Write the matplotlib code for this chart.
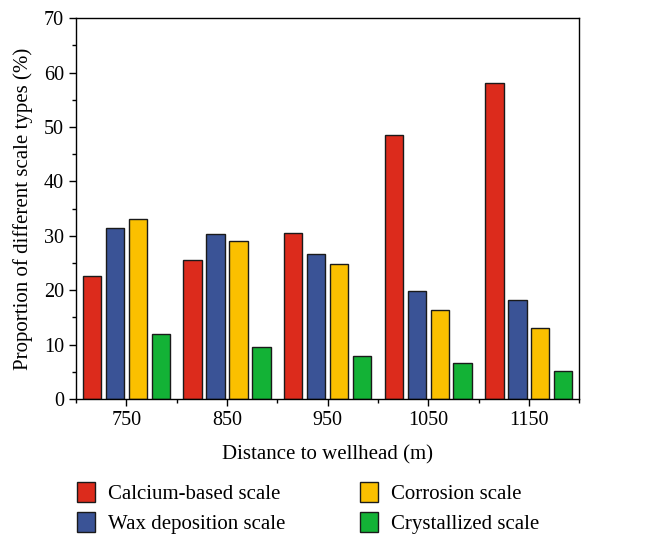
import numpy as np
import matplotlib.pyplot as plt
from matplotlib.ticker import MultipleLocator, FixedLocator

plt.rcParams['font.family'] = ['Liberation Serif', 'DejaVu Serif']

distances = [750, 850, 950, 1050, 1150]
calcium = [22.7, 25.6, 30.6, 48.6, 58.1]
wax = [31.5, 30.4, 26.6, 19.9, 18.2]
corrosion = [33.1, 29.1, 24.9, 16.4, 13.0]
crystallized = [11.9, 9.5, 8.0, 6.6, 5.1]

labels = ['Calcium-based scale', 'Wax deposition scale', 'Corrosion scale', 'Crystallized scale']
colors = ['#DC2B1C', '#3A5396', '#FBC000', '#13B236']
series = [calcium, wax, corrosion, crystallized]

fig = plt.figure(figsize=(6.5, 5.35), dpi=100)
ax = fig.add_axes([0.117, 0.254, 0.774, 0.712])

x = np.array(distances, dtype=float)
width = 18.2
offsets = [-34.2, -11.4, 11.4, 34.2]
for vals, lab, col, off in zip(series, labels, colors, offsets):
    ax.bar(x + off, vals, width, color=col, edgecolor='#1a1a1a', linewidth=1.0, label=lab)

ax.set_xlim(700, 1200)
ax.set_ylim(0, 70)
ax.set_xticks(distances)
ax.xaxis.set_minor_locator(FixedLocator([700, 800, 900, 1000, 1100, 1200]))
ax.yaxis.set_major_locator(MultipleLocator(10))
ax.yaxis.set_minor_locator(MultipleLocator(5))
ax.tick_params(which='both', direction='out', top=False, right=False, labelsize=14.5)
ax.tick_params(which='major', length=5, width=1)
ax.tick_params(which='minor', length=3, width=1)
for s in ax.spines.values():
    s.set_linewidth(1.0)

ax.set_xlabel('Distance to wellhead (m)', fontsize=15, labelpad=11)
ax.set_ylabel('Proportion of different scale types (%)', fontsize=15, labelpad=8)

fig.legend(loc='upper left', bbox_to_anchor=(0.106, 0.114), ncol=2, frameon=False,
           fontsize=15, handlelength=0.85, handleheight=1.1, handletextpad=0.63,
           columnspacing=3.6, labelspacing=0.38, borderaxespad=0)

fig.savefig('out.png', dpi=100)
